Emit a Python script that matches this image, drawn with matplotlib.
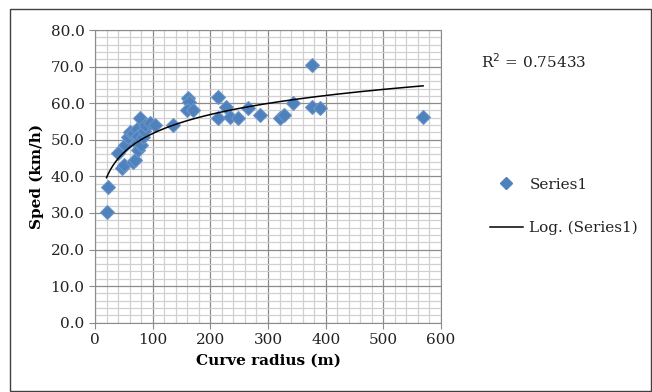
import matplotlib
matplotlib.use("Agg")
import matplotlib.pyplot as plt
from matplotlib.lines import Line2D
from matplotlib.patches import Rectangle
from matplotlib.ticker import MultipleLocator, FormatStrFormatter
import numpy as np

# data
radius = [20, 23, 40, 47, 50, 52, 57, 60, 66, 66, 69, 72, 72, 75, 75, 78, 80,
          83, 85, 87, 95, 104,
          135, 161, 163, 159, 170, 214, 214, 228, 234, 248, 266, 286, 321, 327,
          343, 376, 376, 390, 569]
speed = [30.3, 37.0, 46.3, 42.2, 43.0, 48.5, 50.7, 52.0, 44.0, 51.8, 44.4, 53.0,
         49.0, 47.2, 51.0, 55.9, 48.5, 50.8, 52.5, 54.0, 54.6, 54.0,
         54.0, 61.4, 60.3, 58.1, 58.1, 61.7, 55.9, 59.0, 56.3, 56.0, 58.6, 56.7,
         55.9, 56.7, 60.0, 70.4, 58.9, 58.6, 56.2]
r2_text = "R$^2$ = 0.75433"

plt.rcParams["font.family"] = ["DejaVu Serif"]
plt.rcParams["font.size"] = 11

fig = plt.figure(figsize=(6.52, 3.92), dpi=100)
fig.patches.append(Rectangle((10 / 652, 0.002), 641 / 652, 1 - 9 / 392 - 0.002,
                             transform=fig.transFigure, fill=False,
                             edgecolor="#404040", linewidth=1.0))

ax = fig.add_axes([95 / 652, 1 - 322.7 / 392, 346 / 652, 292.7 / 392])

blue = "#4f81bd"
ax.plot(radius, speed, linestyle="none", marker="D", markersize=7,
        color=blue, markeredgecolor="#6a95c8", markeredgewidth=0.8, zorder=3)

# logarithmic trendline fitted to the data
a, b = np.polyfit(np.log(radius), speed, 1)
xs = np.linspace(min(radius), max(radius), 200)
ax.plot(xs, a * np.log(xs) + b, color="black", linewidth=1.1, zorder=4)

ax.set_xlim(0, 600)
ax.set_ylim(0, 80)
ax.xaxis.set_major_locator(MultipleLocator(100))
ax.xaxis.set_minor_locator(MultipleLocator(20))
ax.yaxis.set_major_locator(MultipleLocator(10))
ax.yaxis.set_minor_locator(MultipleLocator(2))
ax.yaxis.set_major_formatter(FormatStrFormatter("%.1f"))
ax.grid(which="minor", color="#d0d0d0", linewidth=0.9)
ax.grid(which="major", color="#8c8c8c", linewidth=0.9)
ax.set_axisbelow(True)
ax.tick_params(which="major", length=4, color="#8c8c8c", labelsize=11,
               labelcolor="#222222")
ax.tick_params(which="minor", length=0)
for s in ax.spines.values():
    s.set_color("#8c8c8c")

ax.set_xlabel("Curve radius (m)", fontweight="bold", fontsize=11, labelpad=5)
ax.set_ylabel("Sped (km/h)", fontweight="bold", fontsize=11, labelpad=5)

fig.text(481 / 652, 1 - 62 / 392, r2_text, fontsize=11, va="center",
         color="#222222")

handles = [Line2D([], [], linestyle="none", marker="D", markersize=6, color=blue),
           Line2D([], [], color="black", linewidth=1.1)]
fig.legend(handles, ["Series1", "Log. (Series1)"], loc="upper left",
           bbox_to_anchor=(482 / 652, 1 - 170 / 392), frameon=False,
           fontsize=11, handlelength=2.2, handletextpad=0.4,
           labelspacing=1.9, borderpad=0, labelcolor="#222222")

fig.savefig("out.png", dpi=100)
